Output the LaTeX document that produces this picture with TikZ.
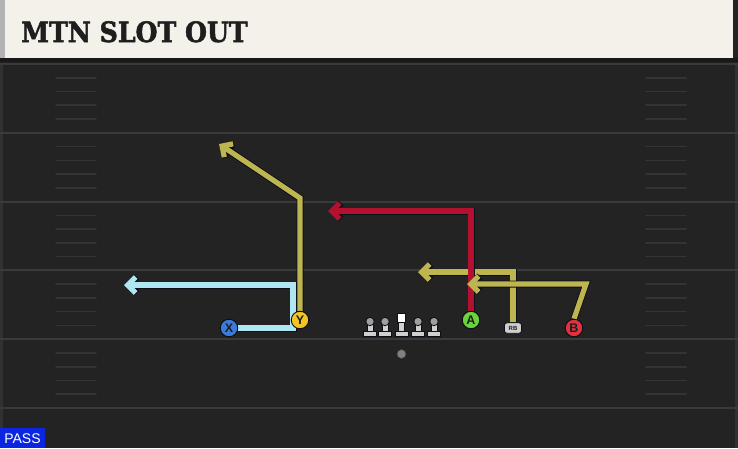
\documentclass[tikz,border=0pt]{standalone}
\usepackage{fontspec}
\setmainfont{Liberation Sans}
\newfontfamily\titlefont{DejaVu Serif}[BoldFeatures={FakeBold=2}]
\usetikzlibrary{arrows.meta}
\definecolor{fieldbg}{HTML}{232323}
\definecolor{yardline}{HTML}{3A3A3A}
\definecolor{cream}{HTML}{F4F1EA}
\definecolor{ink}{HTML}{1E1E1E}
\definecolor{edge}{HTML}{0E0E16}
\definecolor{bluerte}{HTML}{AEE6F2}
\definecolor{olivrte}{HTML}{BDB650}
\definecolor{redrte}{HTML}{B3112F}
\definecolor{xblue}{HTML}{3D7BDB}
\definecolor{yyellow}{HTML}{F2C524}
\definecolor{agreen}{HTML}{6CD23C}
\definecolor{bred}{HTML}{E2323F}
\definecolor{olgrey}{HTML}{CFCFCF}
\definecolor{passblue}{HTML}{0B26E0}

\tikzset{
  player/.style={circle, draw=edge, line width=0.9pt, minimum size=17.5pt, inner sep=0pt,
    text=ink, font=\fontsize{12.5}{12.5}\selectfont\bfseries},
  route/.style={line width=5.2pt, line join=miter, line cap=butt,
    -{Straight Barb[length=8pt, width=16pt]},
    preaction={draw=edge, line width=7pt}},
  lineman/.style={fill=olgrey, draw=edge, line width=0.8pt}
}

\begin{document}
\begin{tikzpicture}[x=1pt, y=-1pt]
      \newcommand\YARD{68.8}
      \newcommand\ONEYD{13.76}

      \useasboundingbox (0,0) rectangle (738,448);
      \fill[fieldbg] (0,0) rectangle (738,448);
      \fill[yardline!60!fieldbg] (0,63) rectangle (3,448);
      \fill[yardline!60!fieldbg] (735,63) rectangle (738,448);

      \foreach \k in {0,...,5}
        \draw[yardline, line width=2pt] (0,64+\k*\YARD) -- (738,64+\k*\YARD);
      \foreach \k in {0,...,4}
        \foreach \j in {1,...,4} {
          \draw[yardline!75!fieldbg, line width=1.6pt, line cap=round] (56,64+\k*\YARD+\j*\ONEYD) -- (96,64+\k*\YARD+\j*\ONEYD);
          \draw[yardline!75!fieldbg, line width=1.6pt, line cap=round] (646,64+\k*\YARD+\j*\ONEYD) -- (686,64+\k*\YARD+\j*\ONEYD);
        }

      \fill[black!90] (0,58) rectangle (738,62);
      \fill[cream] (5,0) rectangle (733,58);
      \fill[black!30] (0,0) rectangle (5,58);
      \draw (21,42) node[anchor=base west, text=ink, inner sep=0pt, font=\titlefont\bfseries\fontsize{28}{28}\selectfont](title){\scalebox{0.9}[1]{MTN SLOT OUT}};

      \foreach \x in {370,385,418,434} {
        \draw[lineman] (\x-3,323) rectangle (\x+3,331.5);
        \draw[lineman] (\x-6.5,331.5) rectangle (\x+6.5,336);
        \draw[lineman, fill=black!38] (\x,321.5) circle (4.2);
      }
      \draw[lineman] (398.5,321.5) rectangle (404.5,331.5);
      \draw[lineman] (395,331.5) rectangle (408,336);
      \draw[lineman, fill=white] (397.3,313) rectangle (405.7,322);
      \draw (401.5,354) node[circle, fill=black!50, draw=black!75, line width=0.6pt, minimum size=9pt, inner sep=0pt](ball){};

      \draw (229,328) node[player, fill=xblue](X){X};
      \draw (300,320) node[player, fill=yyellow](Y){Y};
      \draw (471,320) node[player, fill=agreen](A){A};
      \draw (574,328) node[player, fill=bred](B){B};
      \draw (513,328) node[rounded corners=2.5pt, fill=olgrey, draw=edge, line width=0.8pt, minimum width=17pt, minimum height=10.5pt, inner sep=0pt, text=ink, font=\fontsize{6}{6}\selectfont\bfseries](RB){RB};

      \coordinate (xturn) at (293,285);
      \coordinate (xend) at (124,285);
      \coordinate (yturn) at (300,198);
      \coordinate (yend) at (219,144);
      \coordinate (aend) at (328,211);
      \coordinate (rbend) at (418,272);
      \coordinate (bturn) at (586,284);
      \coordinate (bend) at (467,284);

      \draw[route, olivrte] (RB.north) |- (rbend);
      \draw[route, redrte] (A.north) |- (aend);
      \draw[route, olivrte] (B.north) -- (bturn) -- (bend);
      \draw[route, olivrte] (Y.north) -- (yturn) -- (yend);
      \draw[route, bluerte] (X.east) -| (xturn) -- (xend);

      \draw (229,328) node[player, fill=xblue]{X};
      \draw (300,320) node[player, fill=yyellow]{Y};
      \draw (471,320) node[player, fill=agreen]{A};
      \draw (574,328) node[player, fill=bred]{B};

      \fill[passblue] (0,428) rectangle (45,448);
      \draw (22.5,438.5) node[text=white, font=\fontsize{14}{14}\selectfont](pass){PASS};
    \end{tikzpicture}
\end{document}
